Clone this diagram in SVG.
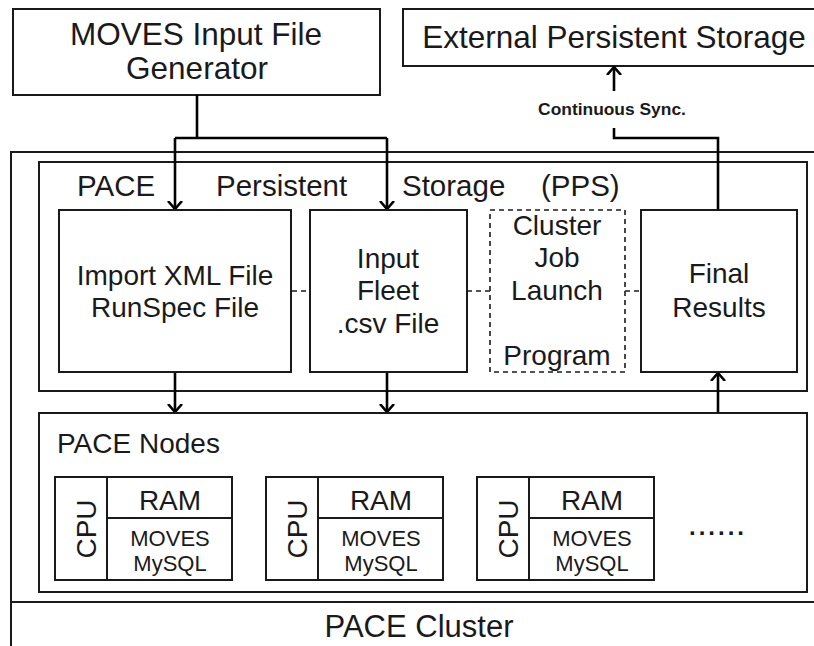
<svg xmlns="http://www.w3.org/2000/svg" width="814" height="646" viewBox="0 0 814 646">
<style>
text{font-family:"Liberation Sans",Arial,sans-serif;fill:#1a1a1a}
.box{fill:#fff;stroke:#1a1a1a;stroke-width:2}
.dash{fill:#fff;stroke:#1a1a1a;stroke-width:1.6;stroke-dasharray:5,4}
.con{fill:none;stroke:#000;stroke-width:2.6}
.dcon{fill:none;stroke:#1a1a1a;stroke-width:1.6;stroke-dasharray:5,4}
.t28{font-size:28px;text-anchor:middle}
.t22{font-size:22px;text-anchor:middle}
</style>
<defs>
<marker id="ah" markerWidth="16" markerHeight="16" refX="8" refY="8" orient="auto" markerUnits="userSpaceOnUse" viewBox="0 0 16 16">
<path d="M0,1 L8,8 L0,15" fill="none" stroke="#000" stroke-width="2.6"/>
</marker>
</defs>
<rect width="814" height="646" fill="#fff"/>
<g id="cluster">
<rect class="box" x="11" y="152" width="812" height="510"/>
<line x1="11" y1="602" x2="814" y2="602" stroke="#1a1a1a" stroke-width="2"/>
<text x="419" y="637" font-size="31" text-anchor="middle">PACE Cluster</text>
</g>
<g id="moves-gen">
<rect class="box" x="13" y="9" width="367" height="86"/>
<text x="196" y="45" font-size="31.5" text-anchor="middle">MOVES Input File</text>
<text x="197" y="79" font-size="31.5" text-anchor="middle">Generator</text>
</g>
<g id="external">
<rect class="box" x="403" y="9" width="420" height="57"/>
<text x="614" y="48" font-size="31.5" text-anchor="middle">External Persistent Storage</text>
</g>
<g id="pps">
<rect class="box" x="39" y="162" width="768" height="229"/>
<text x="77" y="196" font-size="29.5">PACE</text>
<text x="216" y="196" font-size="29.5">Persistent</text>
<text x="402" y="196" font-size="29.5">Storage</text>
<text x="541" y="196" font-size="29.5">(PPS)</text>
</g>
<g id="connectors">
<path class="con" d="M197,95 V138"/>
<path class="con" d="M175,138 H387"/>
<path class="con" d="M175,138 V209" marker-end="url(#ah)"/>
<path class="con" d="M387,138 V209" marker-end="url(#ah)"/>
<path class="con" d="M718,210 V138 H614 V128"/>
<path class="con" d="M614,91 V67" marker-end="url(#ah)"/>
<path class="con" d="M175,372 V412" marker-end="url(#ah)"/>
<path class="con" d="M387,372 V412" marker-end="url(#ah)"/>
<path class="con" d="M718,413 V373" marker-end="url(#ah)"/>
<path class="dcon" d="M292,291 H310"/>
<path class="dcon" d="M467,291 H490"/>
<path class="dcon" d="M625,291 H641"/>
<text x="612" y="115" font-size="17.4" font-weight="bold" text-anchor="middle">Continuous Sync.</text>
</g>
<g id="import">
<rect class="box" x="59" y="210" width="232" height="162"/>
<text class="t28" x="175" y="285">Import XML File</text>
<text class="t28" x="175" y="317">RunSpec File</text>
</g>
<g id="input">
<rect class="box" x="310" y="210" width="157" height="162"/>
<text class="t28" x="388" y="268">Input</text>
<text class="t28" x="388" y="300">Fleet</text>
<text class="t28" x="388" y="333">.csv File</text>
</g>
<g id="launch">
<rect class="dash" x="490" y="210" width="135" height="162"/>
<text class="t28" x="557" y="235">Cluster</text>
<text class="t28" x="557" y="267">Job</text>
<text class="t28" x="557" y="300">Launch</text>
<text class="t28" x="557" y="365">Program</text>
</g>
<g id="final">
<rect class="box" x="641" y="210" width="156" height="162"/>
<text class="t28" x="719" y="283">Final</text>
<text class="t28" x="719" y="317">Results</text>
</g>
<g id="nodes">
<rect class="box" x="39" y="413" width="768" height="179"/>
<text x="57" y="453" font-size="28">PACE Nodes</text>
<text x="689" y="535" font-size="24" font-weight="bold" letter-spacing="3">......</text>
</g>
<g id="node1">
<rect class="box" x="55" y="477" width="177" height="103"/>
<line x1="107" y1="477" x2="107" y2="580" stroke="#1a1a1a" stroke-width="2"/>
<line x1="107" y1="518" x2="232" y2="518" stroke="#1a1a1a" stroke-width="2"/>
<text class="t28" transform="translate(96,529) rotate(-90)">CPU</text>
<text class="t28" x="170" y="510">RAM</text>
<text class="t22" x="170" y="546">MOVES</text>
<text class="t22" x="170" y="571">MySQL</text>
</g>
<g id="node2">
<rect class="box" x="266" y="477" width="177" height="103"/>
<line x1="318" y1="477" x2="318" y2="580" stroke="#1a1a1a" stroke-width="2"/>
<line x1="318" y1="518" x2="443" y2="518" stroke="#1a1a1a" stroke-width="2"/>
<text class="t28" transform="translate(307,529) rotate(-90)">CPU</text>
<text class="t28" x="381" y="510">RAM</text>
<text class="t22" x="381" y="546">MOVES</text>
<text class="t22" x="381" y="571">MySQL</text>
</g>
<g id="node3">
<rect class="box" x="477" y="477" width="177" height="103"/>
<line x1="529" y1="477" x2="529" y2="580" stroke="#1a1a1a" stroke-width="2"/>
<line x1="529" y1="518" x2="654" y2="518" stroke="#1a1a1a" stroke-width="2"/>
<text class="t28" transform="translate(518,529) rotate(-90)">CPU</text>
<text class="t28" x="592" y="510">RAM</text>
<text class="t22" x="592" y="546">MOVES</text>
<text class="t22" x="592" y="571">MySQL</text>
</g>
</svg>
